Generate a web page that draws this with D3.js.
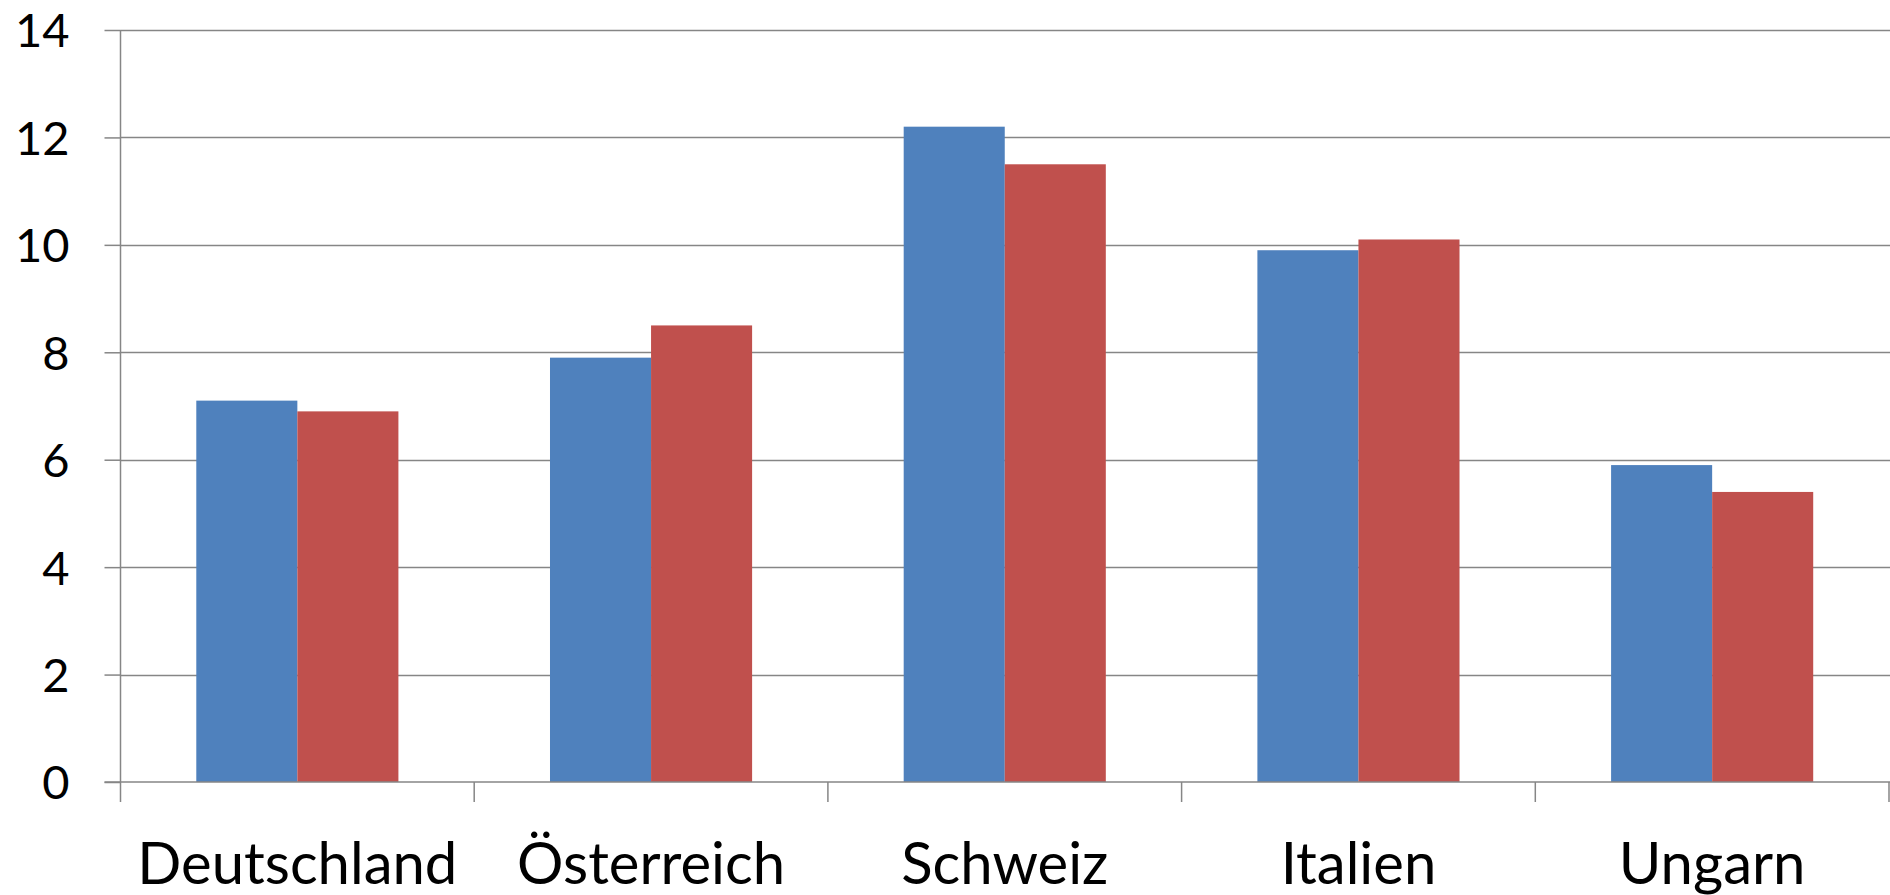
<!DOCTYPE html>
<html>
<head>
<meta charset="utf-8">
<script src="https://cdn.jsdelivr.net/npm/d3@7"></script>
<style>
  html, body { margin: 0; padding: 0; background: #fff; }
  svg { display: block; }
  text { font-family: Lato, "Open Sans", sans-serif; fill: #000; }
</style>
</head>
<body>
<svg id="chart" width="1890" height="895"></svg>
<script>
// Chart data
const categories = ["Deutschland", "Österreich", "Schweiz", "Italien", "Ungarn"];
const seriesNames = ["Serie 1", "Serie 2"];
const series1 = [7.1, 7.9, 12.2, 9.9, 5.9];
const series2 = [6.9, 8.5, 11.5, 10.1, 5.4];
const yTicks = [0, 2, 4, 6, 8, 10, 12, 14];
const seriesColors = ["#4F81BD", "#C0504D"];

const svg = d3.select("#chart");
const margin = { left: 120.5, right: 1, top: 30, bottom: 113 };
const W = 1890, H = 895;
const plotW = W - margin.left - margin.right;
const plotH = H - margin.top - margin.bottom;

const x = d3.scaleBand().domain(categories).range([margin.left, margin.left + plotW]).paddingInner(0).paddingOuter(0);
const bw = x.bandwidth() / 3.5;
const xs = d3.scaleBand().domain(seriesNames).range([0.75 * bw, 2.75 * bw]).padding(0);
const y = d3.scaleLinear().domain([0, 14]).range([margin.top + plotH, margin.top]);

const gridColor = "#868686";

// Horizontal grid lines + y axis ticks
const yAxis = d3.axisLeft(y).tickValues(yTicks).tickSize(16).tickPadding(35).tickFormat(d3.format("d"));
const gy = svg.append("g").attr("transform", `translate(${margin.left},0)`).call(yAxis);
gy.select(".domain").remove();
gy.selectAll(".tick line").attr("stroke", gridColor).attr("stroke-width", 1.5);
gy.selectAll(".tick text").attr("font-size", 47).attr("font-family", "Lato, sans-serif").attr("dy", "0.36em");

svg.append("g").selectAll("line").data(yTicks.filter(d => d !== 0)).join("line")
  .attr("x1", margin.left).attr("x2", W)
  .attr("y1", d => Math.round(y(d)) + 0.5).attr("y2", d => Math.round(y(d)) + 0.5)
  .attr("stroke", gridColor).attr("stroke-width", 1.5);

// Bars
const groups = svg.append("g").selectAll("g").data(categories).join("g")
  .attr("transform", d => `translate(${x(d)},0)`);
groups.selectAll("rect").data((d, i) => [series1[i], series2[i]].map((v, k) => ({ v, k })))
  .join("rect")
  .attr("x", d => xs(seriesNames[d.k]))
  .attr("width", xs.bandwidth())
  .attr("y", d => y(d.v))
  .attr("height", d => y(0) - y(d.v))
  .attr("fill", d => seriesColors[d.k]);

// Vertical axis line
svg.append("line").attr("x1", margin.left).attr("x2", margin.left)
  .attr("y1", margin.top).attr("y2", y(0) + 20)
  .attr("stroke", gridColor).attr("stroke-width", 1.5);

// Category axis
const bounds = categories.map(c => x(c) + x.bandwidth());
const gx = svg.append("g");
gx.append("line").attr("x1", margin.left - 16).attr("x2", W)
  .attr("y1", y(0)).attr("y2", y(0)).attr("stroke", gridColor).attr("stroke-width", 1.5);
gx.selectAll("line.tk").data(bounds).join("line").attr("class", "tk")
  .attr("x1", d => Math.min(d, W - 1)).attr("x2", d => Math.min(d, W - 1))
  .attr("y1", y(0)).attr("y2", y(0) + 20)
  .attr("stroke", gridColor).attr("stroke-width", 1.5);
gx.selectAll("text").data(categories).join("text")
  .attr("x", d => x(d) + x.bandwidth() / 2)
  .attr("y", 884)
  .attr("text-anchor", "middle")
  .attr("font-size", 58)
  .text(d => d);
</script>
</body>
</html>
